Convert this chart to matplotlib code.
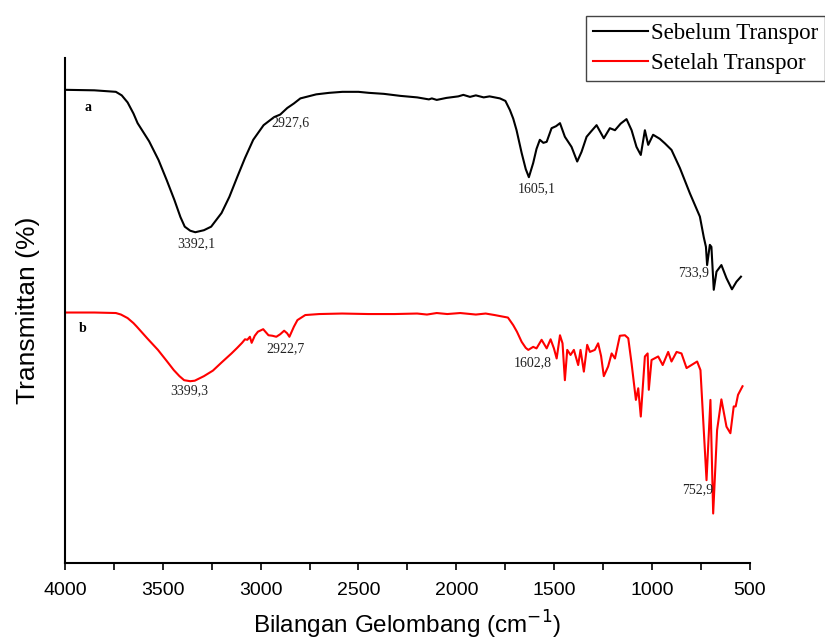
import matplotlib.pyplot as plt
from matplotlib.ticker import MultipleLocator

# FTIR spectra (arbitrary transmittance units)
wn_a = [4000, 3850, 3740, 3710, 3680, 3650, 3629, 3570, 3522, 3480, 3441, 3410, 3388, 3360,
        3334, 3290, 3253, 3200, 3160, 3119, 3080, 3038, 2985, 2931, 2900, 2864, 2830, 2797,
        2716, 2650, 2582, 2500, 2447, 2370, 2286, 2200, 2140, 2125, 2100, 2050, 1990, 1964,
        1930, 1900, 1860, 1830, 1777, 1749, 1726, 1709, 1692, 1666, 1645, 1629, 1607, 1590,
        1573, 1555, 1538, 1513, 1490, 1470, 1445, 1411, 1382, 1360, 1334, 1310, 1283, 1246,
        1215, 1189, 1160, 1130, 1104, 1079, 1057, 1036, 1019, 994, 960, 934, 900, 857, 806,
        755, 735, 724, 718, 704, 696, 684, 670, 645, 619, 591, 568, 545]
t_a = [93.7, 93.6, 93.3, 92.6, 91.2, 89.0, 87.1, 83.5, 79.8, 75.8, 71.9, 68.5, 66.6, 65.8,
       65.5, 65.9, 66.6, 69.3, 72.5, 76.5, 80.2, 83.8, 86.7, 88.3, 88.8, 90.1, 91.0, 92.0,
       92.8, 93.1, 93.3, 93.3, 93.1, 92.9, 92.5, 92.2, 91.8, 92.0, 91.7, 92.1, 92.4, 92.7,
       92.3, 92.6, 92.2, 92.4, 92.0, 91.5, 89.7, 88.0, 85.7, 81.2, 78.0, 76.4, 79.2, 82.0,
       83.8, 83.2, 83.4, 86.1, 86.5, 87.1, 84.4, 82.4, 79.5, 81.4, 84.4, 85.5, 86.7, 84.1,
       86.1, 85.7, 87.0, 87.9, 85.7, 82.4, 80.8, 85.7, 82.8, 84.8, 84.0, 83.1, 81.8, 78.2, 73.2,
       68.6, 64.5, 62.6, 59.0, 63.0, 62.6, 54.1, 57.7, 59.0, 56.4, 54.2, 55.7, 56.7]

wn_b = [4000, 3850, 3740, 3714, 3680, 3650, 3633, 3580, 3525, 3480, 3444, 3415, 3391, 3360,
        3337, 3290, 3244, 3200, 3149, 3120, 3095, 3080, 3068, 3055, 3046, 3030, 3014, 2987,
        2960, 2940, 2920, 2900, 2880, 2865, 2853, 2830, 2812, 2772, 2700, 2584, 2450, 2315,
        2200, 2150, 2100, 2046, 1980, 1900, 1850, 1804, 1777, 1736, 1709, 1690, 1666, 1645,
        1632, 1607, 1590, 1564, 1538, 1518, 1501, 1487, 1470, 1457, 1445, 1433, 1416, 1399,
        1377, 1365, 1348, 1331, 1317, 1292, 1275, 1260, 1246, 1224, 1206, 1189, 1164, 1138,
        1121, 1104, 1082, 1070, 1057, 1036, 1022, 1016, 1002, 968, 945, 917, 900, 874, 849,
        823, 798, 769, 752, 721, 701, 687, 667, 645, 619, 599, 582, 572, 560, 537]
t_b = [49.6, 49.6, 49.5, 49.2, 48.5, 47.5, 46.8, 44.5, 42.2, 40.0, 38.2, 37.0, 36.2, 36.0,
       36.1, 37.0, 38.1, 39.7, 41.5, 42.6, 43.6, 44.3, 44.2, 44.8, 43.6, 45.0, 45.8, 46.3,
       45.1, 45.0, 44.8, 45.3, 46.0, 45.5, 44.8, 46.8, 48.1, 49.1, 49.3, 49.4, 49.3, 49.3,
       49.4, 49.2, 49.5, 49.3, 49.5, 49.2, 49.4, 49.1, 48.9, 48.6, 47.1, 45.8, 43.8, 42.6,
       42.2, 42.8, 42.5, 44.2, 42.5, 44.3, 42.5, 40.5, 45.1, 43.5, 36.2, 42.2, 41.2, 42.2,
       39.2, 42.2, 37.9, 43.2, 41.8, 42.2, 43.5, 41.0, 37.0, 38.9, 41.5, 40.5, 45.0, 45.1,
       44.5, 39.5, 32.3, 34.6, 29.0, 40.9, 41.5, 34.3, 40.2, 40.9, 39.2, 41.8, 39.9, 41.8, 41.5,
       38.6, 39.2, 39.9, 38.2, 16.4, 32.3, 9.8, 26.3, 32.4, 27.0, 25.7, 31.0, 31.0, 33.3, 35.0]

# peak labels: text, x, y
peak_txt = ["2927,6", "3392,1", "1605,1", "733,9", "3399,3", "2922,7", "1602,8", "752,9"]
peak_x = [2850, 3331, 1590, 789, 3364, 2872, 1607, 764]
peak_y = [87.1, 63.2, 74.1, 57.5, 34.1, 42.5, 39.7, 14.5]

fig = plt.figure(figsize=(8.25, 6.43), dpi=100)
ax = fig.add_axes([0.0788, 0.1244, 0.830, 0.7854])

la, = ax.plot(wn_a, t_a, color="black", lw=1.5, label="Sebelum Transpor")
lb, = ax.plot(wn_b, t_b, color="#ff0000", lw=1.5, label="Setelah Transpor")

serif = "Liberation Serif"
for txt, x, y in zip(peak_txt, peak_x, peak_y):
    ax.text(x, y, txt, fontsize=10, family=serif, ha="center", va="center", color="#222222")
ax.text(3882, 90.1, "a", fontsize=10, family=serif, fontweight="bold", ha="center", va="center")
ax.text(3908, 46.5, "b", fontsize=10, family=serif, fontweight="bold", ha="center", va="center")

ax.set_xlim(4000, 500)
ax.set_ylim(0, 100)
ax.xaxis.set_major_locator(MultipleLocator(500))
ax.xaxis.set_minor_locator(MultipleLocator(250))
ax.tick_params(axis="x", which="both", direction="out", length=5, width=1.2,
               labelsize=14, pad=9)
for lab in ax.get_xticklabels():
    lab.set_family("Liberation Sans")
ax.set_yticks([])
for s in ["top", "right"]:
    ax.spines[s].set_visible(False)
for s in ["left", "bottom"]:
    ax.spines[s].set_linewidth(1.5)

ax.set_xlabel("Bilangan Gelombang (cm$^{-1}$)", fontsize=17.5, family="Liberation Sans",
              labelpad=7)
ax.set_ylabel("Transmittan (%)", fontsize=19, family="Liberation Sans", labelpad=18)

fig.legend(handles=[la, lb], loc="upper left", bbox_to_anchor=(586 / 825, 1 - 16 / 643),
           prop={"family": serif, "size": 16.5}, frameon=True, fancybox=False,
           edgecolor="#444444", framealpha=1, borderpad=0.3, handlelength=2.4,
           handletextpad=0.15, labelspacing=0.4, borderaxespad=0)

fig.savefig("out.png", dpi=100)
